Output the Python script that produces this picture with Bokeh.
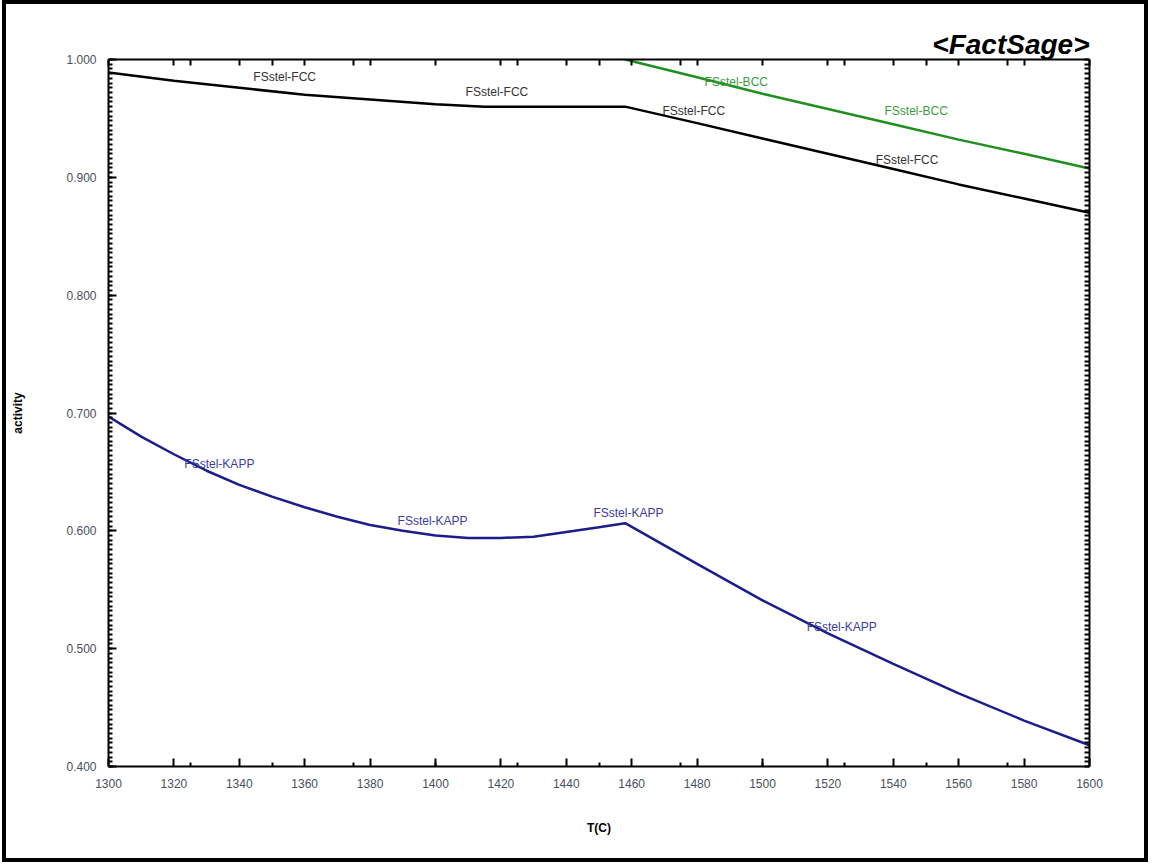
from bokeh.plotting import figure
from bokeh.models import (LinearAxis, FixedTicker, PrintfTickFormatter, Range1d,
                          ColumnDataSource)
from bokeh.core.properties import value
from bokeh.embed import file_html
from bokeh.resources import INLINE
import numpy as np

# ---- data ----
fcc_T = [1300, 1320, 1340, 1360, 1380, 1400, 1415, 1440, 1458, 1480, 1500, 1520, 1540, 1560, 1580, 1600]
fcc_a = [0.989, 0.982, 0.976, 0.970, 0.966, 0.962, 0.960, 0.960, 0.960, 0.946, 0.933, 0.920, 0.907, 0.894, 0.882, 0.870]

bcc_T = [1458, 1480, 1500, 1520, 1540, 1560, 1580, 1600]
bcc_a = [1.000, 0.985, 0.971, 0.958, 0.945, 0.932, 0.920, 0.9075]

kapp_T = [1300, 1310, 1320, 1330, 1340, 1350, 1360, 1370, 1380, 1390, 1400, 1410, 1420, 1430,
          1440, 1450, 1458, 1480, 1500, 1520, 1540, 1560, 1580, 1600]
kapp_a = [0.697, 0.680, 0.665, 0.651, 0.639, 0.629, 0.620, 0.612, 0.605, 0.600, 0.596, 0.594,
          0.594, 0.595, 0.599, 0.603, 0.6065, 0.572, 0.541, 0.513, 0.487, 0.462, 0.439, 0.418]

label_T = [1344.3, 1409.2, 1469.4, 1534.6, 1482.3, 1537.3, 1323.2, 1388.4, 1448.3, 1513.5]
label_a = [0.985, 0.972, 0.9567, 0.9143, 0.9805, 0.9567, 0.657, 0.608, 0.6155, 0.518]
label_text = ["FSstel-FCC", "FSstel-FCC", "FSstel-FCC", "FSstel-FCC",
              "FSstel-BCC", "FSstel-BCC",
              "FSstel-KAPP", "FSstel-KAPP", "FSstel-KAPP", "FSstel-KAPP"]
label_color = ["#333333"] * 4 + ["#3c9c3c"] * 2 + ["#3c3ca0"] * 4

x_ticks = list(range(1300, 1601, 20))
x_minor = list(range(1325, 1600, 25))
y_ticks = [0.4, 0.5, 0.6, 0.7, 0.8, 0.9, 1.0]
y_minor = [round(v, 3) for v in np.arange(0.4, 1.0001, 0.004)]

FONT = "Liberation Sans"
TICK_COLOR = "#4a4f5c"

p = figure(width=1146, height=862, output_backend="svg", toolbar_location=None,
           x_range=Range1d(1300, 1600), y_range=Range1d(0.4, 1.0),
           min_border_left=102, min_border_right=63, min_border_top=55, min_border_bottom=100)
p.styles = {"border": "4px solid black", "margin-left": "2px", "box-sizing": "border-box"}
p.outline_line_color = None
p.xgrid.visible = False
p.ygrid.visible = False
p.background_fill_color = "white"
p.border_fill_color = "white"

p.title.text = "<FactSage>"
p.title.align = "right"
p.title.text_font = FONT
p.title.text_font_size = "28px"
p.title.text_font_style = "bold italic"
p.title.text_color = "black"
p.title.standoff = 0

def style_axis(ax):
    ax.axis_line_color = "black"
    ax.axis_line_width = 2
    ax.major_tick_line_color = "black"
    ax.major_tick_line_width = 2
    ax.minor_tick_line_color = "black"
    ax.minor_tick_line_width = 2
    ax.major_tick_in = 8
    ax.major_tick_out = 0
    ax.minor_tick_in = 4
    ax.minor_tick_out = 0
    ax.major_label_text_font = FONT
    ax.major_label_text_font_size = "12px"
    ax.major_label_text_color = TICK_COLOR
    ax.axis_label_text_font = FONT
    ax.axis_label_text_font_size = "12px"
    ax.axis_label_text_font_style = "bold"
    ax.axis_label_text_color = "black"

p.xaxis.ticker = FixedTicker(ticks=x_ticks, minor_ticks=x_minor)
p.yaxis.ticker = FixedTicker(ticks=y_ticks, minor_ticks=y_minor)
p.yaxis.formatter = PrintfTickFormatter(format="%.3f")
for ax in p.xaxis + p.yaxis:
    style_axis(ax)
p.xaxis.major_label_standoff = 12
p.yaxis.major_label_standoff = 12
p.xaxis.axis_label = "T(C)"
p.yaxis.axis_label = "activity"
p.xaxis.axis_label_standoff = 30
p.yaxis.axis_label_standoff = 38

# top and right axes: tick marks only (drawn as unlabelled minor ticks)
top = LinearAxis(ticker=FixedTicker(ticks=[], minor_ticks=x_ticks + x_minor))
style_axis(top)
top.minor_tick_in = 6
top.major_label_standoff = 0
p.add_layout(top, "above")
right = LinearAxis(ticker=FixedTicker(ticks=[], minor_ticks=y_minor))
style_axis(right)
right.minor_tick_in = 5
right.major_label_standoff = 0
p.add_layout(right, "right")

p.line(fcc_T, fcc_a, line_color="black", line_width=2.5)
p.line(bcc_T, bcc_a, line_color="#1f8f1f", line_width=2.5)
p.line(kapp_T, kapp_a, line_color="#1c1c8c", line_width=2.5)

src = ColumnDataSource(dict(x=label_T, y=label_a, t=label_text, c=label_color))
p.text(x="x", y="y", text="t", text_color="c", source=src,
       text_font=value(FONT), text_font_size="12px",
       text_align="left", text_baseline="middle")

open("out.html", "w").write(file_html(p, INLINE))
